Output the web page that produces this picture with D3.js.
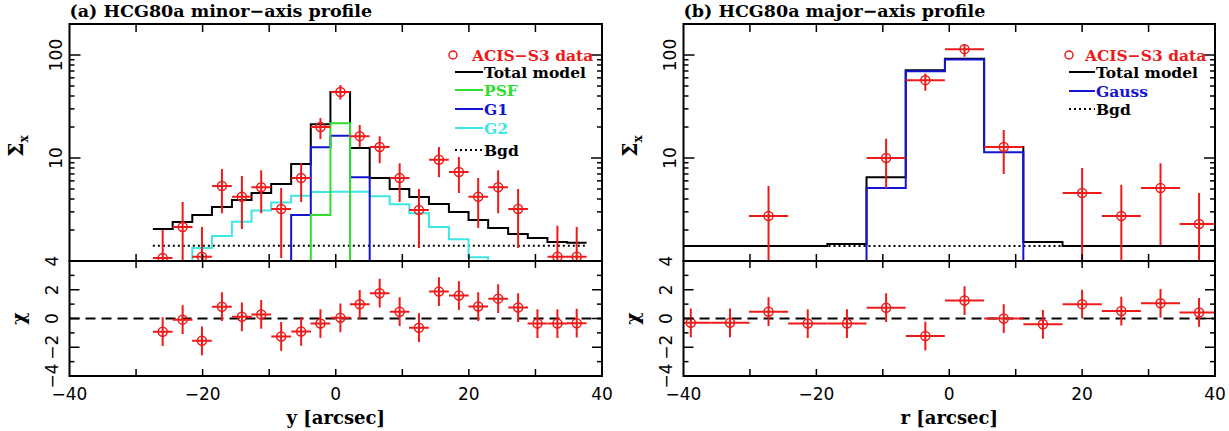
<!DOCTYPE html>
<html>
<head>
<meta charset="utf-8">
<script src="https://cdn.jsdelivr.net/npm/d3@7"></script>
<style>
body { margin: 0; background: #fff; }
</style>
</head>
<body>
<svg id="chart" width="1229" height="431"></svg>
<script>
// ---- panel (a): minor-axis profile
var minorPos   = [-26.0, -23.0, -20.1, -17.1, -14.1, -11.2, -8.2, -5.2, -2.3, 0.7, 3.6, 6.6,
                  9.6, 12.5, 15.5, 18.5, 21.4, 24.4, 27.4, 30.3, 33.3, 36.2];
var minorHalf  = 1.48;
// data (0 = below the plotted range)
var minorVal   = [1.07, 2.14, 1.1, 5.35, 4.2, 5.2, 3.2, 6.4, 20, 43.7, 16.3, 12.8,
                  6.4, 3.13, 9.6, 7.3, 4.2, 5.2, 3.2, 0, 1.1, 1.1];
var minorUp    = [2.0, 3.74, 2.14, 7.8, 6.7, 7.6, 5.1, 8.9, 24.4, 51, 20.9, 16.3,
                  8.9, 5.0, 12.8, 10.2, 6.4, 7.6, 5.0, 0, 2.2, 2.14];
var minorLo    = [0, 0, 0, 2.9, 2.05, 2.9, 1.07, 3.74, 15.3, 37, 12.8, 8.9,
                  3.74, 1.34, 6.5, 4.57, 2.09, 2.9, 1.34, 0, 0, 0];
var minorTotal = [2.05, 2.39, 2.8, 3.34, 3.9, 4.57, 5.6, 8.75, 21.3, 43.7, 12.5, 6.4,
                  5.0, 4.18, 3.57, 2.99, 2.5, 2.09, 1.83, 1.67, 1.53, 1.5];
var minorPSF   = [0, 0, 0, 0, 0, 0, 0, 0, 2.8, 21.8, 0, 0, 0, 0, 0, 0, 0, 0, 0, 0, 0, 0];
var minorG1    = [0, 0, 0, 0, 0, 0, 0, 2.8, 12.7, 16.4, 6.5, 0, 0, 0, 0, 0, 0, 0, 0, 0, 0, 0];
var minorG2    = [0, 0, 1.34, 1.75, 2.4, 3.1, 3.7, 4.3, 4.67, 4.7, 4.7, 4.25,
                  3.55, 2.9, 2.14, 1.63, 1.09, 0, 0, 0, 0, 0];
var minorBgd   = 1.41;
var minorChi   = [-0.92, -0.08, -1.55, 0.82, 0.12, 0.28, -1.25, -0.9, -0.35, 0.05, 0.99, 1.76,
                  0.47, -0.64, 1.87, 1.6, 0.83, 1.38, 0.76, -0.35, -0.35, -0.33];

// ---- panel (b): major-axis profile
var majorPos   = [-38.9, -33.0, -27.2, -21.3, -15.4, -9.5, -3.6, 2.3, 8.2, 14.1, 20.0, 25.9, 31.8, 37.6];
var majorHalf  = 2.94;
var majorVal   = [0, 0, 2.73, 0, 0, 10, 57, 114, 12.8, 0, 4.57, 2.73, 5.1, 2.29];
var majorUp    = [0, 0, 5.35, 0, 0, 15.4, 66, 127, 18.7, 0, 8.0, 5.5, 8.9, 4.57];
var majorLo    = [0, 0, 0, 0, 0, 5.1, 45, 96, 7.0, 0, 0, 0, 1.43, 0];
var majorTotal = [1.40, 1.40, 1.40, 1.40, 1.46, 6.5, 71, 92, 12.8, 1.53, 1.40, 1.40, 1.40, 1.40];
var majorGauss = [0, 0, 0, 0, 0, 5.1, 69.6, 90.5, 11.4, 0, 0, 0, 0, 0];
var majorBgd   = 1.40;
var majorChi   = [-0.3, -0.3, 0.47, -0.35, -0.35, 0.75, -1.22, 1.25, 0, -0.4, 1.0, 0.52, 1.06, 0.42];

var chiErr = 1;

// axis ticks / labels
var xTickVals  = [-30, -20, -10, 0, 10, 20, 30];
var xLabelVals = [-40, -20, 0, 20, 40];
var yLabelVals = [10, 100];
var chiTickVals  = [-3, -2, -1, 0, 1, 2, 3];
var chiLabelVals = [-4, -2, 0, 2, 4];

var RED = "#ee1a1a", GREEN = "#2fdc2f", BLUE = "#1414d2", CYAN = "#3ee6e6";
var TOP = 24, MID = 261, BOTTOM = 376;
var SERIF = "'DejaVu Serif', serif", SANS = "'DejaVu Sans', sans-serif";

var panels = [
    { key: "a", left: 69.5, right: 602, title: "(a) HCG80a minor\u2212axis profile", xTitle: "y [arcsec]",
      pos: minorPos, half: minorHalf, val: minorVal, up: minorUp, lo: minorLo, chi: minorChi,
      bgd: minorBgd, bgdFull: false,
      models: [ { v: minorTotal, color: "#000" }, { v: minorG2, color: CYAN },
                { v: minorG1, color: BLUE }, { v: minorPSF, color: GREEN } ],
      legend: { circX: 453, lineX0: 455, lineX1: 483, dataTextX: 472,
                items: [ { label: "ACIS\u2212S3 data", kind: "circle", color: RED, y: 55 },
                         { label: "Total model", kind: "line", color: "#000", y: 72 },
                         { label: "PSF", kind: "line", color: GREEN, y: 90 },
                         { label: "G1", kind: "line", color: BLUE, y: 109 },
                         { label: "G2", kind: "line", color: CYAN, y: 128 },
                         { label: "Bgd", kind: "dot", color: "#000", y: 150 } ] } },
    { key: "b", left: 683.5, right: 1215, title: "(b) HCG80a major\u2212axis profile", xTitle: "r [arcsec]",
      pos: majorPos, half: majorHalf, val: majorVal, up: majorUp, lo: majorLo, chi: majorChi,
      bgd: majorBgd, bgdFull: true,
      models: [ { v: majorTotal, color: "#000" }, { v: majorGauss, color: BLUE } ],
      legend: { circX: 1069, lineX0: 1069, lineX1: 1095, dataTextX: 1085,
                items: [ { label: "ACIS\u2212S3 data", kind: "circle", color: RED, y: 55 },
                         { label: "Total model", kind: "line", color: "#000", y: 72 },
                         { label: "Gauss", kind: "line", color: BLUE, y: 91 },
                         { label: "Bgd", kind: "dot", color: "#000", y: 109 } ] } }
];

var svg = d3.select("#chart");
var defs = svg.append("defs");

panels.forEach(drawPanel);

function drawPanel(p) {
    var x = d3.scaleLinear().domain([-40, 40]).range([p.left, p.right]);
    var y = d3.scaleLog().domain([1, 200]).range([MID, TOP]);
    var yc = d3.scaleLinear().domain([-4, 4]).range([BOTTOM, MID]);
    // values below the axis are pushed off the plot and clipped
    var ly = function (v) { return v > 0 ? y(v) : MID + 60; };

    defs.append("clipPath").attr("id", "clip-top-" + p.key)
        .append("rect").attr("x", p.left).attr("y", TOP)
        .attr("width", p.right - p.left).attr("height", MID - TOP);
    defs.append("clipPath").attr("id", "clip-chi-" + p.key)
        .append("rect").attr("x", p.left).attr("y", MID)
        .attr("width", p.right - p.left).attr("height", BOTTOM - MID);

    var top = svg.append("g").attr("clip-path", "url(#clip-top-" + p.key + ")");
    var bot = svg.append("g").attr("clip-path", "url(#clip-chi-" + p.key + ")");

    //bin edges
    var n = p.pos.length, edges = [p.pos[0] - p.half];
    for (var i = 1; i < n; i++) edges.push((p.pos[i - 1] + p.pos[i]) / 2);
    edges.push(p.pos[n - 1] + p.half);

    //background level
    var bx0 = p.bgdFull ? -40 : edges[0], bx1 = p.bgdFull ? 40 : edges[n];
    top.append("line")
        .attr("x1", x(bx0)).attr("x2", x(bx1))
        .attr("y1", y(p.bgd)).attr("y2", y(p.bgd))
        .style("stroke", "#000").style("stroke-width", 2)
        .style("stroke-dasharray", "2,3");

    //model histograms
    var line = d3.line().x(function (d) { return x(d[0]); }).y(function (d) { return ly(d[1]); });
    p.models.forEach(function (m) {
        var pts = [];
        m.v.forEach(function (v, i) { pts.push([edges[i], v]); pts.push([edges[i + 1], v]); });
        top.append("path")
            .attr("d", line(pts))
            .style("fill", "none")
            .style("stroke", m.color)
            .style("stroke-width", 2);
    });

    //data points
    p.pos.forEach(function (px, i) {
        if (!(p.val[i] > 0)) return;
        var g = top.append("g").style("stroke", RED).style("fill", "none");
        g.append("line").attr("x1", x(px - p.half)).attr("x2", x(px + p.half))
            .attr("y1", y(p.val[i])).attr("y2", y(p.val[i])).style("stroke-width", 2);
        g.append("line").attr("x1", x(px)).attr("x2", x(px))
            .attr("y1", ly(p.up[i])).attr("y2", ly(p.lo[i])).style("stroke-width", 2);
        g.append("circle").attr("cx", x(px)).attr("cy", y(p.val[i])).attr("r", 4.5)
            .style("stroke-width", 1.5);
    });

    //residuals
    bot.append("line")
        .attr("x1", p.left).attr("x2", p.right)
        .attr("y1", yc(0)).attr("y2", yc(0))
        .style("stroke", "#000").style("stroke-width", 2)
        .style("stroke-dasharray", "10,6");
    p.pos.forEach(function (px, i) {
        var g = bot.append("g").style("stroke", RED).style("fill", "none");
        g.append("line").attr("x1", x(px - p.half)).attr("x2", x(px + p.half))
            .attr("y1", yc(p.chi[i])).attr("y2", yc(p.chi[i])).style("stroke-width", 2);
        g.append("line").attr("x1", x(px)).attr("x2", x(px))
            .attr("y1", yc(p.chi[i] + chiErr)).attr("y2", yc(p.chi[i] - chiErr)).style("stroke-width", 2);
        g.append("circle").attr("cx", x(px)).attr("cy", yc(p.chi[i])).attr("r", 4.5)
            .style("stroke-width", 1.5);
    });

    //frames
    [[TOP, MID], [MID, BOTTOM]].forEach(function (r) {
        svg.append("rect")
            .attr("x", p.left).attr("y", r[0])
            .attr("width", p.right - p.left).attr("height", r[1] - r[0])
            .style("fill", "none").style("stroke", "#000").style("stroke-width", 2);
    });

    var ticks = svg.append("g").style("stroke", "#000").style("stroke-width", 1.5);
    //x ticks, inward on every horizontal edge
    xTickVals.forEach(function (v) {
        [[TOP, 8], [MID, -7], [MID, 7], [BOTTOM, -7]].forEach(function (t) {
            ticks.append("line").attr("x1", x(v)).attr("x2", x(v))
                .attr("y1", t[0]).attr("y2", t[0] + t[1]);
        });
    });
    //log ticks on top panel
    [1, 10, 100].forEach(function (dec) {
        for (var k = 1; k <= 9; k++) {
            var v = dec * k;
            if (v > 200 || v === 1) continue;
            var len = k === 1 ? 11 : 5;
            ticks.append("line").attr("x1", p.left).attr("x2", p.left + len)
                .attr("y1", y(v)).attr("y2", y(v));
            ticks.append("line").attr("x1", p.right).attr("x2", p.right - len)
                .attr("y1", y(v)).attr("y2", y(v));
        }
    });
    //chi ticks
    chiTickVals.forEach(function (v) {
        var len = v % 2 === 0 ? 10 : 5;
        ticks.append("line").attr("x1", p.left).attr("x2", p.left + len)
            .attr("y1", yc(v)).attr("y2", yc(v));
        ticks.append("line").attr("x1", p.right).attr("x2", p.right - len)
            .attr("y1", yc(v)).attr("y2", yc(v));
    });

    var fmt = function (v) { return v < 0 ? "\u2212" + Math.abs(v) : String(v); };
    //tick labels
    xLabelVals.forEach(function (v) {
        svg.append("text").attr("x", x(v)).attr("y", 400)
            .style("text-anchor", "middle").style("font", "17px " + SANS)
            .text(fmt(v));
    });
    yLabelVals.forEach(function (v) {
        svg.append("text")
            .attr("transform", "translate(" + (p.left - 8) + "," + y(v) + ") rotate(-90)")
            .style("text-anchor", "middle").style("font", "17px " + SANS)
            .text(fmt(v));
    });
    chiLabelVals.forEach(function (v) {
        svg.append("text")
            .attr("transform", "translate(" + (p.left - 12) + "," + yc(v) + ") rotate(-90)")
            .style("text-anchor", "middle").style("font", "17px " + SANS)
            .text(fmt(v));
    });

    //titles
    svg.append("text").attr("x", p.left).attr("y", 17)
        .style("font", "bold 17.5px " + SERIF).text(p.title);
    svg.append("text").attr("x", (p.left + p.right) / 2).attr("y", 424)
        .style("text-anchor", "middle").style("font", "bold 18px " + SERIF).text(p.xTitle);
    var sig = svg.append("text")
        .attr("transform", "translate(" + (p.left - 47) + "," + 146 + ") rotate(-90)")
        .style("text-anchor", "middle").style("font", "bold 20px " + SERIF);
    sig.append("tspan").text("\u03a3");
    sig.append("tspan").attr("dy", 5).style("font-size", "12px").text("x");
    svg.append("text")
        .attr("transform", "translate(" + (p.left - 45) + "," + yc(0) + ") rotate(-90)")
        .style("text-anchor", "middle").style("font", "bold 19px " + SERIF).text("\u03c7");

    //legend
    var L = p.legend;
    L.items.forEach(function (it) {
        var tx = L.lineX1 + 1;
        if (it.kind === "circle") {
            svg.append("circle").attr("cx", L.circX).attr("cy", it.y).attr("r", 4)
                .style("fill", "none").style("stroke", it.color).style("stroke-width", 1.5);
            tx = L.dataTextX;
        } else {
            svg.append("line").attr("x1", L.lineX0).attr("x2", L.lineX1)
                .attr("y1", it.y).attr("y2", it.y)
                .style("stroke", it.color).style("stroke-width", 2)
                .style("stroke-dasharray", it.kind === "dot" ? "2,3" : null);
        }
        svg.append("text").attr("x", tx).attr("y", it.y).attr("dy", "0.36em")
            .style("font", "bold 15.5px " + SERIF).style("fill", it.color).text(it.label);
    });
}
</script>
</body>
</html>
